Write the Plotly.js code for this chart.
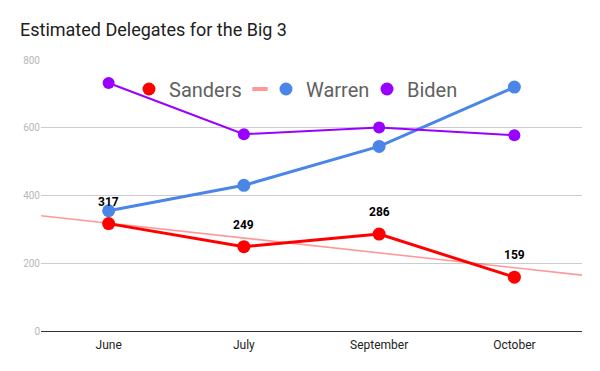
<!DOCTYPE html>
<html>
<head>
<meta charset="utf-8">
<script src="https://cdn.plot.ly/plotly-3.0.1.min.js"></script>
<style>html,body{margin:0;padding:0;background:#fff;}#chart{width:600px;height:371px;}</style>
</head>
<body>
<div id="chart"></div>
<script>
const months = ["June", "July", "September", "October"];
const monthPos = [0, 1, 2, 3];
const sanders = [317, 249, 286, 159];
const warren = [355, 430, 545, 720];
const biden = [732, 581, 601, 578];
// Sanders trendline end points (at the plot edges)
const trendX = [-0.5, 3.5];
const trendY = [340, 165];
const yTicks = [0, 200, 400, 600, 800];

const RED = "#ff0000", BLUE = "#4a86e8", PURPLE = "#9900ff", PINK = "rgba(255,0,0,0.4)";

const traces = [
  {x: monthPos, y: sanders, name: "Sanders", mode: "lines+markers", type: "scatter", showlegend: false,
   line: {color: RED, width: 3}, marker: {color: RED, size: 13}},
  {x: trendX, y: trendY, name: "trend", mode: "lines", type: "scatter", showlegend: false,
   line: {color: PINK, width: 1.6}},
  {x: monthPos, y: warren, name: "Warren", mode: "lines+markers", type: "scatter", showlegend: false,
   line: {color: BLUE, width: 3}, marker: {color: BLUE, size: 13}},
  {x: monthPos, y: biden, name: "Biden", mode: "lines+markers", type: "scatter", showlegend: false,
   line: {color: PURPLE, width: 2}, marker: {color: PURPLE, size: 12}},
  // legend entries (markers only, as in the reference), one legend box each
  {x: [null], y: [null], name: "Sanders", mode: "markers", type: "scatter", legend: "legend",
   marker: {color: RED, size: 13}},
  {x: [null], y: [null], name: "", mode: "markers", type: "scatter", legend: "legend2",
   marker: {symbol: "line-ew-open", size: 11, color: "#ff9999", line: {color: "#ff9999", width: 4}}},
  {x: [null], y: [null], name: "Warren", mode: "markers", type: "scatter", legend: "legend3",
   marker: {color: BLUE, size: 13}},
  {x: [null], y: [null], name: "Biden", mode: "markers", type: "scatter", legend: "legend4",
   marker: {color: PURPLE, size: 13}}
];

const annotations = monthPos.map((p, i) => ({
  x: p, y: sanders[i], text: String(sanders[i]), showarrow: false,
  xref: "x", yref: "y", yshift: 22,
  font: {family: "Roboto, sans-serif", size: 12, color: "#000", weight: "bold"}
}));

function leg(xpx) {
  return {orientation: "h", x: (xpx - 41) / 541, xanchor: "left", y: 0.965, yanchor: "top",
          bgcolor: "rgba(0,0,0,0)", font: {size: 20, color: "#616161"}, itemwidth: 30};
}

const layout = {
  width: 600, height: 371,
  margin: {l: 41, r: 18, t: 60, b: 40},
  paper_bgcolor: "#fff", plot_bgcolor: "#fff",
  font: {family: "Roboto, sans-serif"},
  title: {text: "Estimated Delegates for the Big 3", x: 20/600, xanchor: "left",
          xref: "container", y: 1 - 30/371, yanchor: "middle", yref: "container",
          font: {family: "Roboto, sans-serif", size: 18, color: "#212121"}},
  xaxis: {range: [-0.5, 3.5], tickvals: monthPos, ticktext: months, showgrid: false,
          zeroline: false, showline: true, linecolor: "#333", linewidth: 1,
          ticks: "", ticklabelstandoff: 3, tickfont: {size: 12, color: "#222"}, fixedrange: true},
  yaxis: {range: [0, 800], tickvals: yTicks, ticktext: yTicks.map(String),
          showgrid: true, gridcolor: "#cccccc", gridwidth: 1, zeroline: false,
          showline: false, ticks: "", tickfont: {size: 10, color: "#b7b7b7"}, fixedrange: true},
  showlegend: true,
  legend: leg(129),
  legend2: leg(240),
  legend3: leg(266),
  legend4: leg(367),
  annotations: annotations
};

Plotly.newPlot("chart", traces, layout, {displayModeBar: false, staticPlot: true});
</script>
</body>
</html>
